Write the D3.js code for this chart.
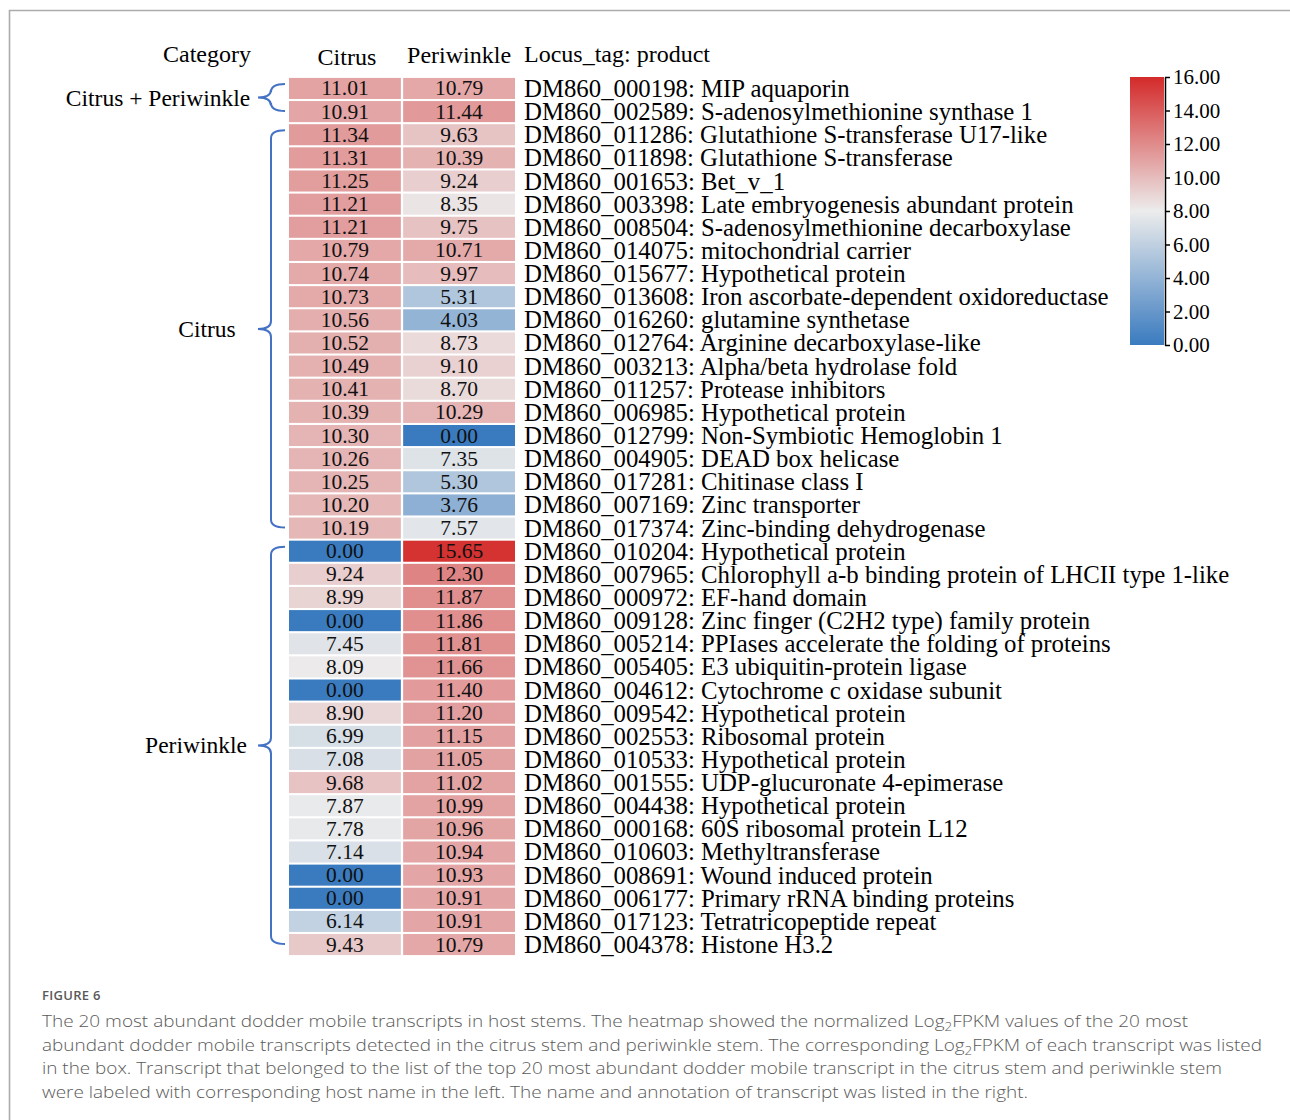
<!DOCTYPE html>
<html><head><meta charset="utf-8">
<script src="https://cdn.jsdelivr.net/npm/d3@7"></script>
<style>
html,body{margin:0;padding:0;background:#fff;}
svg{display:block;}
</style></head>
<body>
<svg id="chart" width="1290" height="1120"></svg>
<script>
// ---------- DATA ----------
const columns = ["Citrus", "Periwinkle"];
const products = [
  "DM860_000198: MIP aquaporin",
  "DM860_002589: S-adenosylmethionine synthase 1",
  "DM860_011286: Glutathione S-transferase U17-like",
  "DM860_011898: Glutathione S-transferase",
  "DM860_001653: Bet_v_1",
  "DM860_003398: Late embryogenesis abundant protein",
  "DM860_008504: S-adenosylmethionine decarboxylase",
  "DM860_014075: mitochondrial carrier",
  "DM860_015677: Hypothetical protein",
  "DM860_013608: Iron ascorbate-dependent oxidoreductase",
  "DM860_016260: glutamine synthetase",
  "DM860_012764: Arginine decarboxylase-like",
  "DM860_003213: Alpha/beta hydrolase fold",
  "DM860_011257: Protease inhibitors",
  "DM860_006985: Hypothetical protein",
  "DM860_012799: Non-Symbiotic Hemoglobin 1",
  "DM860_004905: DEAD box helicase",
  "DM860_017281: Chitinase class I",
  "DM860_007169: Zinc transporter",
  "DM860_017374: Zinc-binding dehydrogenase",
  "DM860_010204: Hypothetical protein",
  "DM860_007965: Chlorophyll a-b binding protein of LHCII type 1-like",
  "DM860_000972: EF-hand domain",
  "DM860_009128: Zinc finger (C2H2 type) family protein",
  "DM860_005214: PPIases accelerate the folding of proteins",
  "DM860_005405: E3 ubiquitin-protein ligase",
  "DM860_004612: Cytochrome c oxidase subunit",
  "DM860_009542: Hypothetical protein",
  "DM860_002553: Ribosomal protein",
  "DM860_010533: Hypothetical protein",
  "DM860_001555: UDP-glucuronate 4-epimerase",
  "DM860_004438: Hypothetical protein",
  "DM860_000168: 60S ribosomal protein L12",
  "DM860_010603: Methyltransferase",
  "DM860_008691: Wound induced protein",
  "DM860_006177: Primary rRNA binding proteins",
  "DM860_017123: Tetratricopeptide repeat",
  "DM860_004378: Histone H3.2"
];
const citrusValues = [11.01,10.91,11.34,11.31,11.25,11.21,11.21,10.79,10.74,10.73,10.56,10.52,10.49,10.41,10.39,10.30,10.26,10.25,10.20,10.19,
  0.00,9.24,8.99,0.00,7.45,8.09,0.00,8.90,6.99,7.08,9.68,7.87,7.78,7.14,0.00,0.00,6.14,9.43];
const periwinkleValues = [10.79,11.44,9.63,10.39,9.24,8.35,9.75,10.71,9.97,5.31,4.03,8.73,9.10,8.70,10.29,0.00,7.35,5.30,3.76,7.57,
  15.65,12.30,11.87,11.86,11.81,11.66,11.40,11.20,11.15,11.05,11.02,10.99,10.96,10.94,10.93,10.91,10.91,10.79];
const groupNames = ["Citrus + Periwinkle", "Citrus", "Periwinkle"];
const groupStart = [0, 2, 20];
const groupEnd = [1, 19, 37];
const colorTicks = [0,2,4,6,8,10,12,14,16];
const colorDomain = [0, 8, 16];
const colorRange = ["#3a7bbf", "#ececec", "#d42a2a"];

// ---------- LAYOUT ----------
const svg = d3.select("#chart");
const serif = "'Liberation Serif','Times New Roman',serif";
const sans = "'Open Sans','Noto Sans',sans-serif";

// frame
svg.append("path").attr("d","M9.5,1120 V10.5 H1290").attr("fill","none").attr("stroke","#ababab").attr("stroke-width",1.6);

const y = d3.scaleBand().domain(d3.range(products.length)).range([77, 956]).paddingInner(0.09).paddingOuter(0.04);
const x = d3.scaleBand().domain(columns).range([289, 515]).paddingInner(0.02);
const color = d3.scaleLinear().domain(colorDomain).range(colorRange).clamp(true);

const cells = [];
products.forEach((p,i)=>{
  cells.push({row:i,col:"Citrus",v:citrusValues[i]});
  cells.push({row:i,col:"Periwinkle",v:periwinkleValues[i]});
});

const g = svg.append("g");
g.selectAll("rect.cell").data(cells).join("rect").attr("class","cell")
  .attr("x",d=>x(d.col)).attr("y",d=>y(d.row))
  .attr("width",x.bandwidth()).attr("height",y.bandwidth())
  .attr("fill",d=>color(d.v));
g.selectAll("text.val").data(cells).join("text").attr("class","val")
  .attr("x",d=>x(d.col)+x.bandwidth()/2).attr("y",d=>y(d.row)+y.bandwidth()/2+7)
  .attr("text-anchor","middle").attr("font-family",serif).attr("font-size",21.5).attr("fill","#111")
  .text(d=>d.v.toFixed(2));

// right labels
g.selectAll("text.prod").data(products).join("text").attr("class","prod")
  .attr("x",524).attr("y",(d,i)=>y(i)+y.bandwidth()/2+8.5)
  .attr("font-family",serif).attr("font-size",24.8).attr("fill","#000")
  .text(d=>d);

// headers
const hdr = svg.append("g").attr("font-family",serif).attr("font-size",24).attr("fill","#000");
hdr.append("text").attr("x",207).attr("y",62).attr("text-anchor","middle").text("Category");
columns.forEach(c=>{
  hdr.append("text").attr("x",x(c)+x.bandwidth()/2+(c==="Citrus"?2:0)).attr("y",c==="Citrus"?65:63).attr("text-anchor","middle").text(c);
});
hdr.append("text").attr("x",524).attr("y",62).text("Locus_tag: product");

// braces
const groupLabelX = [158, 207, 196];
groupNames.forEach((name,k)=>{
  const y0 = y(groupStart[k]) + 6;
  const y1 = y(groupEnd[k]) + y.bandwidth() - 11;
  const ym = (y0+y1)/2;
  const xe = 285, xm = 271, xt = 258, r = 8;
  const p = d3.path();
  p.moveTo(xe, y0);
  p.quadraticCurveTo(xm, y0, xm, y0 + r);
  p.lineTo(xm, ym - r);
  p.quadraticCurveTo(xm, ym, xt, ym);
  p.quadraticCurveTo(xm, ym, xm, ym + r);
  p.lineTo(xm, y1 - r);
  p.quadraticCurveTo(xm, y1, xe, y1);
  svg.append("path").attr("d",p.toString()).attr("fill","none").attr("stroke","#4472c4").attr("stroke-width",2);
  svg.append("text").attr("x",groupLabelX[k]).attr("y",ym+8).attr("text-anchor","middle")
    .attr("font-family",serif).attr("font-size",23.5).attr("fill","#000").text(name);
});

// colorbar
const cbY = d3.scaleLinear().domain([0,16]).range([345,77]);
const defs = svg.append("defs");
const grad = defs.append("linearGradient").attr("id","cbgrad").attr("x1",0).attr("y1",1).attr("x2",0).attr("y2",0);
d3.range(0,16.01,1).forEach(v=>{
  grad.append("stop").attr("offset",(v/16)).attr("stop-color",color(v));
});
svg.append("rect").attr("x",1130).attr("y",cbY(16)).attr("width",34).attr("height",cbY(0)-cbY(16)).attr("fill","url(#cbgrad)");
const cbAxis = d3.axisRight(cbY).tickValues(colorTicks).tickFormat(d3.format(".2f")).tickSize(5).tickSizeOuter(0).tickPadding(3);
const ag = svg.append("g").attr("transform","translate(1165,0)").call(cbAxis);
ag.select(".domain").attr("stroke","#000").attr("stroke-width",1.5);
ag.selectAll(".tick line").attr("stroke","#000").attr("stroke-width",1.5);
ag.selectAll(".tick text").attr("font-family",serif).attr("font-size",21).attr("fill","#000");

// caption
const cap = svg.append("g").attr("font-family",sans).attr("fill","#5a5a5a");
cap.append("text").attr("x",42).attr("y",1000).attr("font-size",13).attr("font-weight",600).attr("letter-spacing",0.3).text("FIGURE 6");
const capLines = [
  ["The 20 most abundant dodder mobile transcripts in host stems. The heatmap showed the normalized Log","2","FPKM values of the 20 most"],
  ["abundant dodder mobile transcripts detected in the citrus stem and periwinkle stem. The corresponding Log","2","FPKM of each transcript was listed"],
  ["in the box. Transcript that belonged to the list of the top 20 most abundant dodder mobile transcript in the citrus stem and periwinkle stem"],
  ["were labeled with corresponding host name in the left. The name and annotation of transcript was listed in the right."]
];
const capWidths = [1146, 1220, 1180, 986];
capLines.forEach((parts,i)=>{
  const t = cap.append("text").attr("x",42).attr("y",1027+i*23.7).attr("font-size",17).attr("font-weight",300)
    .attr("textLength",capWidths[i]).attr("lengthAdjust","spacingAndGlyphs");
  parts.forEach((s,j)=>{
    const ts = t.append("tspan").text(s);
    if (parts.length===3 && j===1) ts.attr("font-size",12).attr("dy",4);
    if (parts.length===3 && j===2) ts.attr("dy",-4);
  });
});
</script>
</body></html>
